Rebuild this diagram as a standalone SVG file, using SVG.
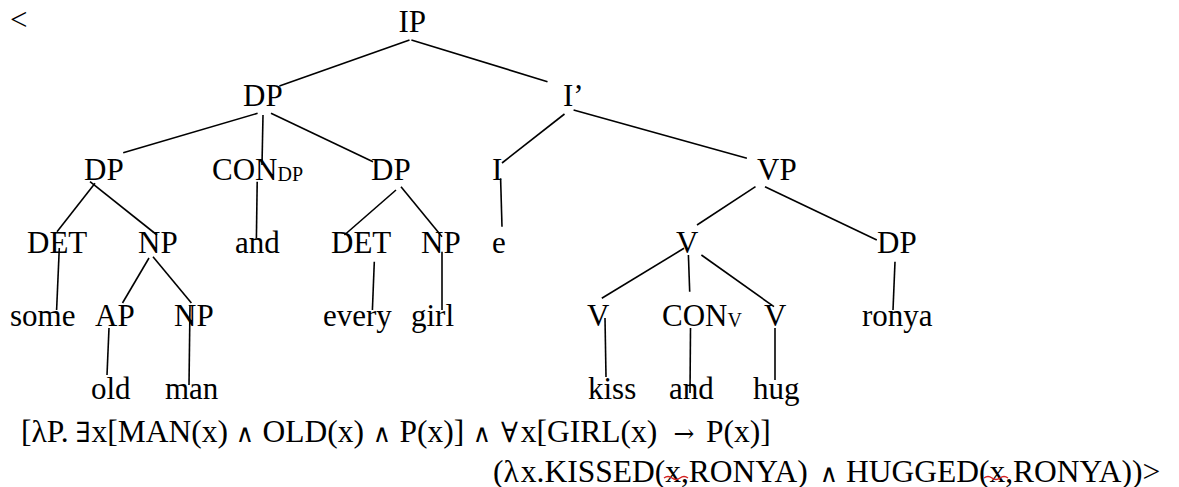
<svg xmlns="http://www.w3.org/2000/svg" width="1179" height="487" viewBox="0 0 1179 487">
  <style>
    text { font-family: "Liberation Serif", "Times New Roman", serif; font-size: 31px; fill: #000; }
    .sub { font-size: 20px; }
    .formula { font-size: 31.5px; }
    .op { font-family: "DejaVu Serif", "Liberation Serif", serif; font-size: 25px; text-anchor: middle; }
    .q { font-family: "DejaVu Serif", "Liberation Serif", serif; font-size: 28px; text-anchor: middle; }
    #connectors line { stroke: #000; stroke-width: 1.6; }
    .squiggle { fill: none; stroke: #d42020; stroke-width: 1.4; }
  </style>
  <rect width="1179" height="487" fill="#fff"/>

  <!-- tree branches -->
  <g id="connectors">
    <line x1="409.5" y1="40" x2="279.4" y2="86"/>
    <line x1="411.4" y1="40" x2="547.5" y2="81.7"/>
    <line x1="257.6" y1="113.3" x2="123.2" y2="152.7"/>
    <line x1="263" y1="115" x2="262" y2="165"/>
    <line x1="271" y1="113.3" x2="373" y2="161.7"/>
    <line x1="564.5" y1="114" x2="502" y2="163"/>
    <line x1="573.6" y1="110" x2="746.9" y2="158.3"/>
    <line x1="95" y1="183.3" x2="57" y2="231.7"/>
    <line x1="90" y1="181.7" x2="157" y2="235"/>
    <line x1="257.2" y1="181.7" x2="256.4" y2="238.3"/>
    <line x1="396" y1="190" x2="344.4" y2="235"/>
    <line x1="401" y1="186.7" x2="442" y2="236.7"/>
    <line x1="500.6" y1="178.3" x2="502" y2="226.7"/>
    <line x1="755.5" y1="186.7" x2="697" y2="225"/>
    <line x1="765" y1="186.7" x2="876.8" y2="240"/>
    <line x1="59.3" y1="248" x2="56.6" y2="310"/>
    <line x1="149" y1="258" x2="122.5" y2="303"/>
    <line x1="153" y1="256.7" x2="191.4" y2="303"/>
    <line x1="374.3" y1="261.7" x2="372.4" y2="310"/>
    <line x1="442" y1="251.7" x2="442" y2="310"/>
    <line x1="684" y1="248.3" x2="601.8" y2="298.3"/>
    <line x1="688.4" y1="255" x2="689.7" y2="291.7"/>
    <line x1="701.4" y1="255" x2="774" y2="306.7"/>
    <line x1="895" y1="261.7" x2="893" y2="310"/>
    <line x1="109" y1="328" x2="107" y2="375"/>
    <line x1="190" y1="305" x2="189" y2="385"/>
    <line x1="605" y1="318" x2="606" y2="377"/>
    <line x1="690.5" y1="328" x2="690" y2="393"/>
    <line x1="775" y1="328" x2="775" y2="380"/>
  </g>

  <text x="10" y="30">&lt;</text>

  <g id="n-IP"><text x="398.5" y="32">IP</text></g>
  <g id="n-DP-subj"><text x="243" y="106">DP</text></g>
  <g id="n-Ibar"><text x="563" y="106">I’</text></g>

  <g id="n-DP-1"><text x="84" y="180">DP</text></g>
  <g id="n-CON-DP"><text x="212" y="180">CON<tspan class="sub" dy="1">DP</tspan></text></g>
  <g id="n-DP-2"><text x="371" y="180">DP</text></g>
  <g id="n-I"><text x="492" y="180">I</text></g>
  <g id="n-VP"><text x="757" y="180">VP</text></g>

  <g id="n-DET-1"><text x="27" y="253">DET</text></g>
  <g id="n-NP-1"><text x="138" y="253">NP</text></g>
  <g id="n-and-1"><text x="235" y="253">and</text></g>
  <g id="n-DET-2"><text x="331" y="253">DET</text></g>
  <g id="n-NP-2"><text x="421" y="253">NP</text></g>
  <g id="n-e"><text x="492" y="253">e</text></g>
  <g id="n-V"><text x="676" y="253">V</text></g>
  <g id="n-DP-obj"><text x="877" y="253">DP</text></g>

  <g id="n-some"><text x="10" y="326">some</text></g>
  <g id="n-AP"><text x="95" y="326">AP</text></g>
  <g id="n-NP-3"><text x="174" y="326">NP</text></g>
  <g id="n-every"><text x="323" y="326">every</text></g>
  <g id="n-girl"><text x="411" y="326">girl</text></g>
  <g id="n-V-1"><text x="587" y="326">V</text></g>
  <g id="n-CON-V"><text x="662" y="326">CON<tspan class="sub" dy="1">V</tspan></text></g>
  <g id="n-V-2"><text x="764" y="326">V</text></g>
  <g id="n-ronya"><text x="862" y="326">ronya</text></g>

  <g id="n-old"><text x="91" y="399">old</text></g>
  <g id="n-man"><text x="165" y="399">man</text></g>
  <g id="n-kiss"><text x="588" y="399">kiss</text></g>
  <g id="n-and-2"><text x="669" y="399">and</text></g>
  <g id="n-hug"><text x="753" y="399">hug</text></g>

  <!-- denotation, operators centred in their columns -->
  <text class="formula" y="442"><tspan x="21">[λP.</tspan><tspan class="q" x="83">∃</tspan><tspan x="91.5">x[MAN(x)</tspan><tspan class="op" x="245">∧</tspan><tspan x="262.5">OLD(x)</tspan><tspan class="op" x="382">∧</tspan><tspan x="399.5">P(x)]</tspan><tspan class="op" x="482">∧</tspan><tspan class="q" x="509.5">∀</tspan><tspan x="520.8">x[GIRL(x)</tspan><tspan class="op" x="684">→</tspan><tspan x="706">P(x)]</tspan></text>
  <text class="formula" y="482"><tspan x="493">(</tspan><tspan x="503.5">λ</tspan><tspan x="520.8">x.KISSED(x,RONYA)</tspan><tspan class="op" x="829">∧</tspan><tspan x="846">HUGGED(x,RONYA))&gt;</tspan></text>

  <!-- spell-check marks -->
  <path class="squiggle" d="M664 478 q4 -3 8 0 t8 0 t8 0"/>
  <path class="squiggle" d="M984 478 q4 -3 8 0 t8 0 t8 0"/>
</svg>
